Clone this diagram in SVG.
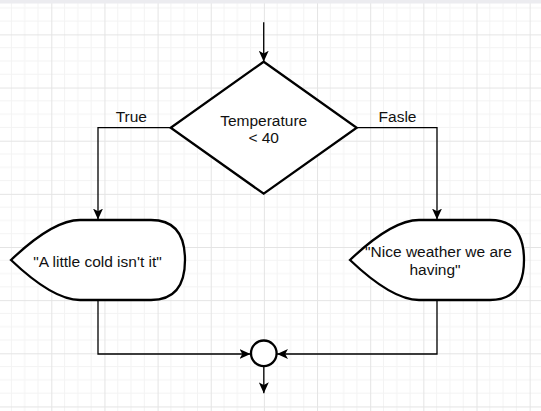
<svg xmlns="http://www.w3.org/2000/svg" width="541" height="411" viewBox="0 0 541 411">
  <style>
    .shape { fill: #ffffff; stroke: #000000; stroke-width: 2.3; stroke-linejoin: miter; }
    .conn { fill: none; stroke: #000000; stroke-width: 1.3; }
    .txt { font-family: "Liberation Sans", Arial, Helvetica, sans-serif; font-size: 15.5px; fill: #111111; text-anchor: middle; }
    .minor { stroke: #f3f3f3; stroke-width: 1; }
    .major { stroke: #e4e4e4; stroke-width: 1; }
  </style>
  <defs>
    <pattern id="grid" patternUnits="userSpaceOnUse" x="51.3" y="34.4" width="53.15" height="53.15">
      <line class="minor" x1="13.29" y1="0" x2="13.29" y2="53.15"/>
      <line class="minor" x1="26.58" y1="0" x2="26.58" y2="53.15"/>
      <line class="minor" x1="39.86" y1="0" x2="39.86" y2="53.15"/>
      <line class="minor" x1="0" y1="13.29" x2="53.15" y2="13.29"/>
      <line class="minor" x1="0" y1="26.58" x2="53.15" y2="26.58"/>
      <line class="minor" x1="0" y1="39.86" x2="53.15" y2="39.86"/>
      <line class="major" x1="0.5" y1="0" x2="0.5" y2="53.15"/>
      <line class="major" x1="0" y1="0.5" x2="53.15" y2="0.5"/>
    </pattern>
    <marker id="arrow" markerUnits="userSpaceOnUse" markerWidth="11" markerHeight="10" viewBox="0 0 11 10" refX="11" refY="5" orient="auto">
      <path d="M0,0 L11,5 L0,10 L2.8,5 Z" fill="#000000"/>
    </marker>
    <path id="display" d="M0,40 Q42,0 69,0 L140,0 Q174,0 174,40 Q174,80 140,80 L69,80 Q42,80 0,40 Z"/>
  </defs>

  <rect x="0" y="0" width="541" height="411" fill="#ffffff"/>
  <rect x="0" y="0" width="541" height="411" fill="url(#grid)"/>
  <rect x="0" y="0" width="541" height="3.5" fill="#ececf0"/>

  <g id="connectors">
    <path class="conn" d="M263.7,22.3 V61.7" marker-end="url(#arrow)"/>
    <path class="conn" d="M170.7,127.7 H98 V219.5" marker-end="url(#arrow)"/>
    <path class="conn" d="M356.7,127.7 H437 V219.5" marker-end="url(#arrow)"/>
    <path class="conn" d="M98,300 V354 H250.5" marker-end="url(#arrow)"/>
    <path class="conn" d="M437,300 V354 H277" marker-end="url(#arrow)"/>
    <path class="conn" d="M263.8,366.5 V393.3" marker-end="url(#arrow)"/>
    <text class="txt" x="131.3" y="121.5">True</text>
    <text class="txt" x="397.5" y="121.5">Fasle</text>
  </g>

  <g id="decision">
    <polygon class="shape" points="263.7,61.7 356.7,127.7 263.7,193.7 170.7,127.7"/>
    <text class="txt" x="263.7" y="125.7">Temperature</text>
    <text class="txt" x="263.7" y="143.3">&lt; 40</text>
  </g>

  <g id="display-true">
    <use href="#display" class="shape" transform="translate(11,220)"/>
    <text class="txt" x="97.5" y="266.5">"A little cold isn't it"</text>
  </g>

  <g id="display-false">
    <use href="#display" class="shape" transform="translate(350,220)"/>
    <text class="txt" x="438.5" y="256.8">"Nice weather we are</text>
    <text class="txt" x="435" y="275.2">having"</text>
  </g>

  <g id="merge">
    <circle class="shape" cx="263.8" cy="353.3" r="12.8"/>
  </g>
</svg>
